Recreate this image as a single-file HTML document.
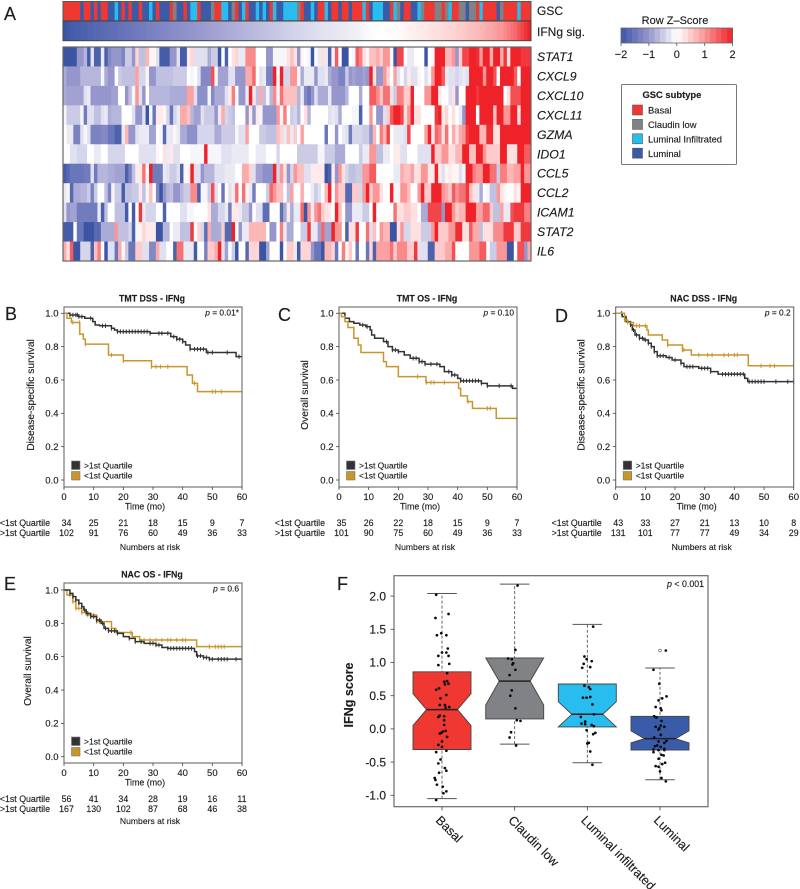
<!DOCTYPE html>
<html lang="en">
<head>
<meta charset="utf-8">
<title>IFNg signature figure</title>
<style>
html,body{margin:0;padding:0;background:#fff;}
svg{display:block;font-family:"Liberation Sans",sans-serif;filter:blur(.3px);}
text{fill:#1c1c1c;stroke:#1c1c1c;stroke-width:.14px;}
</style>
</head>
<body>
<svg id="figure" xmlns="http://www.w3.org/2000/svg" width="800" height="889" viewBox="0 0 800 889">
  <rect x="0" y="0" width="800" height="889" fill="#fff"/>
  <g id="panel-a"></g>
  <g id="panel-b"></g>
  <g id="panel-c"></g>
  <g id="panel-d"></g>
  <g id="panel-e"></g>
  <g id="panel-f"></g>
</svg>
<script>
/* ---------- Panel A data ---------- */
const geneNames = ["STAT1","CXCL9","CXCL10","CXCL11","GZMA","IDO1","CCL5","CCL2","ICAM1","STAT2","IL6"];
const gscSubtype = ("BBBBBLBBLB"+"LBBLLILBLB"+"LLBLLILBLL"+"LBCLLBLIIB"+"LLLCBBIILC"+"BLIBLLILIL"+"BILLIIIICB"+"LLILBBILBB"+"LBBLBBBIBL"+"IIILLBICLB"+"BLLICBBBCC"+"BCIBBCCLCC"+"BIBBBBLCBB"+"BBIBBB").split("");
const subtypeNames = ["Basal","Claudin low","Luminal Infiltrated","Luminal"];
const ifngSignature = [
-2,-1.95,-1.9,-1.85,-1.85,-1.8,-1.8,-1.75,-1.75,-1.7,
-1.7,-1.68,-1.65,-1.62,-1.6,-1.58,-1.55,-1.52,-1.5,-1.48,
-1.45,-1.42,-1.4,-1.38,-1.35,-1.33,-1.3,-1.28,-1.25,-1.23,
-1.2,-1.18,-1.15,-1.13,-1.1,-1.08,-1.05,-1.03,-1,-.98,
-.96,-.94,-.92,-.9,-.88,-.86,-.84,-.82,-.8,-.78,
-.76,-.74,-.72,-.7,-.68,-.66,-.64,-.62,-.6,-.58,
-.56,-.54,-.52,-.5,-.48,-.46,-.44,-.42,-.4,-.38,
-.36,-.35,-.34,-.32,-.3,-.28,-.27,-.26,-.24,-.22,
-.21,-.2,-.18,-.16,-.15,-.14,-.12,-.08,-.05,-.03,
-.02,0,0,0,.02,.02,.04,.05,.07,.1,
.12,.14,.15,.18,.2,.22,.25,.28,.3,.32,
.35,.38,.4,.42,.45,.48,.5,.55,.6,.62,
.65,.7,.75,.8,.85,.9,.95,1,1.1,1.2,
1.3,1.4,1.55,1.7,1.85,2];
const zSTAT1 = [
-2,-2,-2,-2,-1,-1,-.7,-1.9,-.3,-1.8,
-1.8,-.2,-1.8,-1.2,-1,-1,-1,-1.3,-.5,-.5,
-1,.4,-.6,-.6,.7,.1,.1,-.3,-1.9,-1.9,
-1.9,-1,-1,-.3,-1.9,-1.9,.2,.4,-.3,-.3,
-.3,-.3,-.8,-.5,-.5,-2,0,-1.8,0,.3,
.4,-.2,-.2,1.1,1.1,1.1,0,0,0,-1,
-1,-.1,-.1,-.1,-.1,.3,.6,.3,-1,.1,
0,-.1,-2,0,-.2,.3,-.2,-1.8,.1,1.5,
0,-2,-2,0,-.1,1.5,1.2,.3,.1,.6,
.6,.8,.5,1,1,.1,-2,1.7,1.7,0,
-.2,-.2,0,0,0,-2,0,.1,2,2,
2,.7,.7,1,-1,.5,1.7,1.7,2,2,
1.9,1,2,2,.8,2,2,.8,1.8,.3,
2,2,2,1.8,1.8,1.8];
const zCXCL9 = [
-.8,-1,-1,-1,-1,-.7,-.7,-.7,-.7,-.7,
-.7,-.1,-.8,-1,-1,0,-.5,-.6,-.6,-.6,
-.6,.9,-.4,-.4,-.1,-1,-1,-.6,-.6,-.6,
-.6,-.6,-.5,-.5,-.5,-.5,0,-.1,0,-.3,
-1.2,-1.2,-1.2,1.6,-.1,-.9,-.9,-.9,-.3,-.3,
-1,-1,-1,.8,.8,1.4,0,-.3,-.2,-1.3,
-1.3,2,0,2,-.4,-.4,1,1,.1,-.8,
-.2,-.2,-.2,-1,-.3,-.3,-.2,-.8,-1,-1,
-1.3,-1.3,-.5,-1,-.9,-1,-1,-.9,-1,2,
.3,-1,-1,1,.4,0,.9,-.3,0,-.4,
.2,-.3,-.3,.1,0,-.3,.1,1,2,2,
1.5,-.2,-.3,-.3,-.4,-.3,-.2,-.3,2,2,
2,2,1,2,2,1.6,0,2,2,2,
2,1.5,0,2,2,2];
const zCXCL10 = [
-.8,-.9,-.9,-.9,-.9,-.9,-.3,-.2,-1,-1,
-1,-1,-1,-1,-.9,-.9,0,0,-1,-.6,
-.1,1,-.3,-1,0,-.7,-.7,-.7,-.7,-.7,
-.7,-.8,-.8,-.8,-.8,-.8,.9,.9,-.3,-1.1,
-1.1,-1.1,-.1,-1.2,-.8,-.8,-.8,-.3,.2,1.2,
0,-1,-1,-.2,2,.2,-.6,.8,-.6,-.1,
-.7,1.1,.1,1.3,.6,.6,.6,.6,-.7,-.2,
-1.2,-1.5,-1,-.3,-.8,-.8,-.8,-.2,-1,-1,
-1,-1,-.7,0,0,0,-.8,0,0,1.5,
1.5,1.1,.6,1.3,1.3,.3,-.5,1.2,1.2,.5,
.5,2,0,0,0,1,1,2,2,.2,
0,0,-.3,.3,-1,0,0,2,2,2,
1.8,2,2,2,2,2,2,2,0,.3,
1.6,1.6,1.6,2,2,2];
const zCXCL11 = [
-.1,-.5,-.5,-.5,-.5,-.1,-1.4,-.3,-.3,-.6,
-.6,-.3,-.2,-.8,-.7,-.7,-.7,0,0,0,
-.3,-1,-1,-.3,-2,-.1,-1.5,.2,.2,.1,
-.4,-1.5,-.4,-.2,.8,.8,.6,-.7,-.9,-.9,
-.3,-.5,-.5,-.5,-1,-.2,.8,-.4,-.5,-.6,
0,0,0,-1,.2,-1,.2,-.1,-1,-1,
-1,-1,1,.1,1.2,0,-.5,-.4,-.7,0,
.3,-.7,0,0,0,0,0,-.3,-.2,-.3,
-.8,0,0,0,-.1,-.1,-1.8,0,0,1,
0,-1,-1,-.3,.5,1.5,2,2,1.7,.3,
1,2,.3,.3,0,0,0,0,1.8,2,
.2,.4,0,.3,0,-.2,-1,2,2,2,
0,2,2,2,2,.6,2,2,1,1,
2,2,.3,2,2,2];
const zGZMA = [
0,-.2,-.2,-1.3,-1.3,-.3,-.1,-.3,-1.3,-1.3,
-1.3,-1.2,-1.2,-1.5,-1.5,-1.8,-1.8,-.2,.7,-1,
-1,-.3,-.2,-.2,-.2,-.9,-.9,0,-.1,-1.7,
-.2,-.2,.1,-.2,-.8,-.8,-1.1,-1.1,-1.1,-.4,
-.4,-.4,-.4,-.4,-.8,-.8,-.5,-.5,-.5,-.5,
-.1,-.3,-.3,.9,0,0,0,-.5,-.5,-.6,
-.6,-.6,.6,.4,-.2,.6,-.2,.5,0,.9,
0,0,0,0,0,0,-1.5,0,0,-1,
0,-.2,-.3,-1.4,-.4,-.4,-.4,-.5,-.5,-1,
.7,0,1.2,.7,1.7,0,-.2,-.2,-.2,-.3,
1.7,0,0,0,0,.9,2,.2,1.4,1.2,
.3,1.3,0,.8,.3,.8,1,1.8,2,2,
2,.7,.7,1.9,1.9,.3,.3,2,2,2,
2,2,2,2,2,2];
const zIDO1 = [
0,0,-.3,-.3,-.4,-.4,-.4,0,0,-.2,
-.2,0,0,-.4,-.4,-.4,-.4,-.4,0,0,
0,0,-.3,-.3,-.3,-.3,-.3,.1,0,.3,
-.2,.2,-.3,-.3,0,0,0,-.1,-.1,-.1,
-.1,2,-.1,-.1,-.1,-.1,-.3,-.3,-.3,-.2,
-.2,-.2,-.2,-.2,0,0,-.2,-.2,-.2,0,
0,0,-.4,0,0,0,0,0,-.5,-.5,
-.5,-.5,-.5,-.5,-.1,-.1,-.5,-.5,-.5,-.8,
-.8,-.8,0,0,0,0,-.5,-.2,-.2,1,
1,-.6,-.6,-.2,-.2,0,.2,.2,-.3,-.3,
0,0,0,-.3,-.3,-.3,-.3,2,.5,.5,
1,1,.3,.3,.7,.7,2,2,.6,.6,
2,2,1,.5,.5,.5,.5,2,2,.3,
.3,.3,2,2,1.5,1.5];
const zCCL5 = [
-1.9,-1.7,-1.5,-1.5,-1.5,-1.5,-1.4,-1.4,-.3,-1.4,
-.7,-.7,-.7,-.8,-.8,-.9,-.9,-.9,-1.8,-1.3,
-.6,.2,.2,1.3,.1,2,-1.4,-1.4,-1.4,-.2,
-.3,-.5,-.5,-.3,-1.8,.1,.1,2,-.3,-.3,
-1,-.7,-.7,-.7,-.3,-.3,-.3,-.2,-.2,-.2,
0,0,.8,.8,.4,-.3,-.9,-.9,-1.1,-1.1,
-1.1,2,-.4,1,.3,-1,-.4,1,.6,.6,
-.3,-.3,.2,.2,.2,.2,-2,-1.8,.2,-1,
1,.3,-.4,-.6,-.6,-.5,-.5,1,1,1.5,
1.5,0,0,0,0,0,-.2,-.2,.8,.6,
.6,.9,.3,.3,1,1,.2,.2,2,.2,
-.3,.1,.2,.1,.1,-.3,-.1,2,2,1.2,
1,1,2,2,1.3,1.3,-.5,1.2,1.2,.7,
.7,.9,.9,2,1,1];
const zCCL2 = [
-.2,-.1,-1.7,-.8,-.8,-.7,-.7,-.5,-1.3,-.5,
0,0,-.6,-1.3,-.1,-.5,-.5,-1.9,-.6,-.6,
-.5,-.5,.2,-.6,.1,.6,0,-1.3,-2,-1,
-.7,-.6,-1,-1,-.7,-.5,-.5,1.1,1.1,-1.8,
-.1,-.1,-.5,1.6,-.3,0,-1.5,0,-.3,.2,
1.3,0,1.3,-.1,-.2,-1.4,0,0,0,-.5,
1.4,1,.6,.6,0,-.6,.9,0,0,.8,
0,0,-.2,-.5,-.3,0,.7,2,0,1,
.5,.5,-1.7,-1.7,.5,.5,-.4,1,2,.5,
1,1,.3,0,0,2,-.1,-.1,1,1,
.6,0,0,1,2,.5,.5,2,2,2,
1,.8,.5,1.5,1,1.3,1.3,1.8,.6,.3,
-.2,-.8,0,-.1,-.6,-.6,1,.3,.1,0,
0,.3,.1,2,2,2];
const zICAM1 = [
-.3,-1,-.9,-.9,-1.4,-1.4,-1.4,-1.4,-1.4,-1.4,
-.2,-1.8,-.6,0,0,-.6,-.6,-.6,-1.9,0,
-1.9,0,1.8,-.2,-.4,-.4,-.4,0,0,-1.8,
0,0,0,0,-.3,-.3,-.1,-.1,0,0,
0,0,.3,-.8,-.8,-.4,-.4,-.2,-1.4,.2,
.2,-.2,-.5,-.5,-1,0,-.3,-.3,-1.6,-1.6,
0,0,0,-1.6,-.8,.2,-.8,-.2,-.2,1.4,
-2,1,-.2,1,1.3,.5,.3,.2,0,2,
.6,0,-1,-1,-.2,-.2,-.2,-.5,-.5,0,
2,0,0,0,0,0,1.3,.3,.3,.5,
.5,.3,.3,0,-.8,-.8,1.7,1.7,1.7,1.7,
-1,2,2,1,.5,.7,.7,2,2,2,
.9,.9,1.4,1.4,.5,-.6,-.6,.9,-.2,-.2,
1.6,1.8,1.8,1.8,1.2,1.2];
const zSTAT2 = [
-1.9,-1.9,-1.9,0,-1.5,-1.5,-2,-2,-2,-1.7,
-1.7,-.8,-.8,-.8,-.8,1,-.6,-.6,-.6,-.4,
-1.8,.1,.1,.4,.2,.2,.2,-2,-2,-.7,
-.7,0,-.2,-.2,-.6,-.6,-.6,1.8,0,.4,
-.4,-1.6,.8,-.8,-.8,-.8,.5,-1.7,-1.7,2,
0,-1,-.2,-.2,.7,.7,.7,.7,.7,0,
-1,-1,0,1.2,-.2,-.8,-.8,0,0,-.5,
-.5,1.8,-.2,-.2,-.9,1.4,-.9,-.9,2,1,
1,0,-1.8,.3,.3,1.8,0,0,1.3,-.3,
.6,0,1,.7,.7,-2,-2,.3,1,-.4,
-.4,.3,.3,.3,-.5,-.5,-.5,1,2,.5,
.5,.5,1,1,1.9,1.9,.3,.3,1.5,.8,
.8,-.6,.3,.3,.3,1.1,1.1,1.1,1.8,1.8,
1.8,.5,.5,1.8,1.8,1.8];
const zIL6 = [
.8,.3,1.5,-2,-2,-.4,-.4,-.4,-1.8,.6,
1.2,0,-2,-.3,-.3,-1.5,.8,.1,-.5,-1.5,
-1.5,.5,.5,-.3,-.3,-1.2,-1.2,.8,-.3,-.3,
0,0,-1.8,1.3,1.3,-.2,-.2,-.2,-1.9,0,
0,-1.3,.5,.5,.8,2,-.3,-.9,0,-.5,
-2,0,0,-1.7,.4,.4,.4,-2,-2,-.9,
0,0,0,-2,0,.5,.5,-.2,-1.9,.4,
.4,.4,-1,-1.5,-1.5,-2,.7,.7,.4,-1.5,
0,1.2,.1,.5,0,-1.5,0,0,-1.5,.4,
-1.8,.9,.9,.9,.9,1.3,.5,1.1,1.1,1.1,
.5,.5,1.8,-.3,-.3,-.3,-1.8,-1.8,.5,.5,
.5,.8,.8,1.6,0,0,0,0,1,1,
1,1.5,1.5,0,-.5,-.5,1,1,1,-2,
-2,0,1.6,1.6,-1,.8];
const heatmapRows = [zSTAT1,zCXCL9,zCXCL10,zCXCL11,zGZMA,zIDO1,zCCL5,zCCL2,zICAM1,zSTAT2,zIL6];
const colorbarSteps = [-1.9,-1.7,-1.5,-1.3,-1.1,-.9,-.7,-.5,-.3,-.1,.1,.3,.5,.7,.9,1.1,1.3,1.5,1.7,1.9];
const colorbarTicks = [-2,-1,0,1,2];

/* ---------- Panel B data ---------- */
const bDarkTimes = [0,2,5,7,9.7,10.5,12,16,17,18,29,36,38,40,41,42.5,48,58];
const bDarkSurv = [1,.99,.98,.97,.95,.93,.925,.91,.90,.89,.88,.86,.845,.83,.81,.785,.765,.74];
const bDarkCensor = [2,3,4,4.5,5,6,9,13,14,16,18,19,20,21,22,23,24,25,26,27,28,29,32,33,35,37,38,39,40,42.5,44,45,46,47,48.5,50,55,59];
const bGoldTimes = [0,1,2.5,5.3,6.5,7.2,15,20,29.5,41.5,43.3,45];
const bGoldSurv = [1,.97,.945,.875,.845,.815,.75,.715,.68,.63,.58,.53];
const bGoldCensor = [3,5.2,7.2,16,20,29.5,31,32.5,35,44,50,51,53];
const bRiskLow = [34,25,21,18,15,9,7];
const bRiskHigh = [102,91,76,60,49,36,33];

/* ---------- Panel C data ---------- */
const cDarkTimes = [0,2,3.5,5,7,9,10.5,11,12,15,16.5,18,20,22,24,27,29,34,35.5,38,40,41,48,50,58.5];
const cDarkSurv = [1,.97,.95,.94,.93,.92,.90,.87,.85,.83,.80,.78,.77,.75,.73,.71,.695,.68,.65,.63,.61,.595,.58,.565,.55];
const cDarkCensor = [8,9.5,16,18,19,20,25,26,27,28,29,31,33,37,38,39,41,42,43,44,45,46,47,48,50,54,58,60];
const cGoldTimes = [0,.8,2,3,5,6.5,7.4,15,16,20,29.3,40.3,41,43.3,45,53];
const cGoldSurv = [1,.98,.95,.915,.85,.81,.765,.71,.68,.62,.585,.55,.505,.47,.43,.37];
const cGoldCensor = [26.5,29.5,31,32,35.5,43.5,50,51,60];
const cRiskLow = [35,26,22,18,15,9,7];
const cRiskHigh = [101,90,75,60,49,36,33];

/* ---------- Panel D data ---------- */
const dDarkTimes = [0,2.2,3.5,5,5.6,6.5,8,9.5,11,12,13,14,17,19,22,23,28,32,34.5,43.5,44.5];
const dDarkSurv = [1,.98,.95,.93,.90,.87,.85,.84,.82,.80,.77,.745,.735,.72,.70,.68,.67,.65,.635,.61,.59];
const dDarkCensor = [2,3,5,6,7,8,9,10,11,12,13,14,15,16,18,20,22,24,25,26,29,30,31,32,36,37,38,39,40,41,42,43,45,46,47,48,49,50,54,58,60];
const dGoldTimes = [0,3,4,6,10.5,11,15.7,17.5,22.5,25.5,44.7];
const dGoldSurv = [1,.96,.945,.925,.90,.87,.84,.81,.78,.75,.685];
const dGoldCensor = [3,4,7,8,10,17.5,22.5,23,28,31,32.5,36.5,38,40,41,49,52,53.5];
const dRiskLow = [43,33,27,21,13,10,8];
const dRiskHigh = [131,101,77,77,49,34,29];

/* ---------- Panel E data ---------- */
const eDarkTimes = [0,2,3,4,5,6,6.7,7.5,9,11,12.5,13.5,15,18,20,22,24,27,31,33,35,44,44.7,47,49];
const eDarkSurv = [1,.98,.96,.94,.92,.90,.88,.86,.84,.82,.80,.77,.755,.74,.72,.71,.69,.68,.67,.655,.65,.63,.605,.595,.585];
const eDarkCensor = [2,3,4,5,6,7,8,9,10,11,12,13,14,15,16,17,18,22,24,26,29,30,31,32,35,36,37,38,39,40,41,42,43,45,46,47,48,49,50,52,53,54,55,58,60];
const eGoldTimes = [0,1,3,4,6,7.5,11,16,17.5,23,25.5,44.7];
const eGoldSurv = [1,.97,.93,.89,.865,.85,.81,.77,.745,.72,.70,.66];
const eGoldCensor = [2,3,4,5,6,8,9,10,11,12,22.5,25.5,27,29,31,33,35,36,38,40,41,49,51,52,53,54];
const eRiskLow = [56,41,34,28,19,16,11];
const eRiskHigh = [167,130,102,87,68,46,38];

const kmTimeTicks = [0,10,20,30,40,50,60];
const kmSurvTicks = [0,.2,.4,.6,.8,1];

/* ---------- Panel F data ---------- */
const boxCategories = ["Basal","Claudin low","Luminal infiltrated","Luminal"];
const boxQ1 = [-.31,.15,.03,-.32];
const boxMedian = [.29,.72,.22,-.147];
const boxQ3 = [.86,1.07,.676,.19];
const boxNotchLow = [.05,.36,.03,-.21];
const boxNotchHigh = [.53,1.07,.41,-.03];
const boxWhiskerLow = [-1.05,-.23,-.51,-.765];
const boxWhiskerHigh = [2.04,2.18,1.575,.917];
const boxTicks = [-1,-.5,0,.5,1,1.5,2];
const basalValues = [2.02,1.73,1.67,1.41,1.44,1.41,1.21,1.15,1.15,1.10,1.10,.98,.96,.84,.72,.71,.68,.67,.61,.59,.51,.46,.36,.36,.32,.33,.2,.18,.19,.13,.06,-.06,-.07,-.04,-.03,-.12,-.19,-.24,-.27,-.35,-.33,-.46,-.52,-.59,-.63,-.66,-.74,-.77,-.84,-.87,-.94,-.97,-1.07];
const basalJitter = [-.08,.09,-.09,-.07,-.01,.06,.08,.06,0,-.05,.09,.1,-.05,.07,.07,.03,.09,.04,-.04,-.08,.06,-.02,-.03,.04,.05,.1,-.03,-.05,.03,.03,.03,-.01,-.03,.01,.05,.07,0,-.05,0,-.08,.06,-.02,-.05,.04,.06,-.04,-.1,-.09,-.07,.01,.06,.02,-.08];
const claudinValues = [2.16,1.19,1.06,1.05,.99,.97,.89,.81,.58,.5,.31,.13,.12,-.05,-.13,-.25];
const claudinJitter = [.04,.01,-.09,-.04,-.02,-.03,.01,-.07,-.04,-.06,.01,.03,.08,-.05,-.07,.02];
const infiltratedValues = [1.54,1.09,1.02,1.05,.98,.92,.93,.65,.63,.6,.47,.47,.48,.37,.18,.22,.11,.08,.07,.06,.04,-.02,-.06,-.08,-.21,-.22,-.34,-.54];
const infiltratedJitter = [.08,-.04,.06,-.01,-.05,-.07,.04,-.04,.02,.04,-.06,-.01,.04,.07,-.09,.09,-.03,-.08,-.03,.06,.09,-.01,.11,.08,.02,0,.04,.07];
const luminalValues = [1.18,.89,.68,.49,.46,.43,.33,.31,.28,.19,.17,.12,.05,.03,.03,.01,-.01,-.09,-.13,-.19,-.18,-.21,-.25,-.26,-.27,-.3,-.31,-.32,-.32,-.35,-.39,-.4,-.45,-.51,-.53,-.56,-.57,-.64,-.74,-.79];
const luminalJitter = [.08,-.09,-.01,.09,.03,-.02,-.06,.01,.02,-.08,-.05,.02,.01,-.06,.06,-.01,-.02,.01,-.08,-.02,.09,.06,-.04,-.07,.01,.06,-.09,-.02,.06,-.09,.02,.05,-.02,.07,.03,-.06,-.02,0,.02,.08];
const luminalOutliers = [1.18];
const boxPointValues = [basalValues,claudinValues,infiltratedValues,luminalValues];
const boxPointJitter = [basalJitter,claudinJitter,infiltratedJitter,luminalJitter];

/* ---------- helpers ---------- */
const NS = "http://www.w3.org/2000/svg";
function mk(tag, attrs, parent, txt) {
  const e = document.createElementNS(NS, tag);
  for (const k in attrs) e.setAttribute(k, attrs[k]);
  if (txt !== undefined) e.textContent = txt;
  parent.appendChild(e);
  return e;
}
const SUBTYPE_COLORS = {B:"#ef3832",C:"#808285",I:"#29bcef",L:"#3a5ba8"};
function zColor(z) {
  const stops = [[-2,59,85,165],[-1,150,150,205],[0,255,255,255],[1,250,150,150],[2,238,34,40]];
  const v = Math.max(-2, Math.min(2, z));
  for (let i = 0; i < 4; i++) {
    const a = stops[i], b = stops[i+1];
    if (v <= b[0]) {
      const f = v - a[0];
      return "rgb(" + Math.round(a[1]+(b[1]-a[1])*f) + "," + Math.round(a[2]+(b[2]-a[2])*f) + "," + Math.round(a[3]+(b[3]-a[3])*f) + ")";
    }
  }
  return "rgb(238,34,40)";
}

/* ---------- Panel A ---------- */
(function () {
  const g = document.getElementById("panel-a");
  const L = 63, R = 531;
  const colX = i => L + (R - L) * i / gscSubtype.length;
  const colW = (R - L) / gscSubtype.length + 0.4;

  const letter = mk("text", {x:4, y:20, "font-size":18}, g, "A");
  
  

  gscSubtype.forEach((c, i) => {
    const r = mk("rect", {x:colX(i), y:2, width:colW, height:18.5, fill:SUBTYPE_COLORS[c]}, g);
    
    
  });
  ifngSignature.forEach((v, i) => {
    const r = mk("rect", {x:colX(i), y:21.5, width:colW, height:19, fill:zColor(v)}, g);
    
    
  });
  const rowH = (261 - 47) / heatmapRows.length;
  heatmapRows.forEach((row, ri) => {
    row.forEach((v, i) => {
      const r = mk("rect", {x:colX(i), y:47 + ri * rowH, width:colW, height:rowH + 0.3, fill:zColor(v)}, g);
      
      
    });
    const lab = mk("text", {x:537, y:47 + ri * rowH + 14, "font-size":12.3, "font-style":"italic"}, g, geneNames[ri]);
    
    
  });
  const f1 = mk("rect", {x:63, y:1.5, width:468, height:19.3, fill:"none", stroke:"#555", "stroke-width":1}, g);
  
  
  const f2 = mk("rect", {x:63, y:21, width:468, height:19.7, fill:"none", stroke:"#444", "stroke-width":1}, g);
  
  
  const f3 = mk("rect", {x:63, y:47, width:468, height:214, fill:"none", stroke:"#666", "stroke-width":1.2}, g);
  
  
  const t1 = mk("text", {x:537, y:15, "font-size":12}, g, "GSC");
  
  
  const t2 = mk("text", {x:537, y:36, "font-size":12}, g, "IFNg sig.");
  
  

  /* colour key */
  const kx = v => 621 + (v + 2) * 27.9;
  const kt = mk("text", {x:675, y:24, "font-size":11, "text-anchor":"middle"}, g, "Row Z\u2013Score");
  
  
  colorbarSteps.forEach(v => {
    const r = mk("rect", {x:kx(v - .1), y:28, width:kx(.2) - kx(0) + .3, height:15, fill:zColor(v)}, g);
    
    
  });
  const kf = mk("rect", {x:621, y:28, width:111.6, height:15, fill:"none", stroke:"#666", "stroke-width":.8}, g);
  
  
  colorbarTicks.forEach(v => {
    const tk = mk("line", {x1:kx(v), x2:kx(v), y1:43, y2:46, stroke:"#555", "stroke-width":.8}, g);
    
    
    const tl = mk("text", {x:kx(v), y:58, "font-size":11, "text-anchor":"middle"}, g, v < 0 ? "\u2212" + (-v) : String(v));
    
    
  });

  /* subtype legend */
  const lb = mk("rect", {x:621.5, y:84.5, width:115, height:80, fill:"#fff", stroke:"#777", "stroke-width":1, rx:1}, g);
  
  
  const lt = mk("text", {x:642.5, y:98, "font-size":9.4, "font-weight":"bold"}, g, "GSC subtype");
  
  
  subtypeNames.forEach((n, i) => {
    const y = 105 + i * 14.4;
    const sw = mk("rect", {x:632.5, y:y, width:10, height:10, fill:SUBTYPE_COLORS["BCIL"[i]], stroke:"#555", "stroke-width":.6}, g);
    
    
    const tx = mk("text", {x:648, y:y + 8.6, "font-size":9.4}, g, n);
    
    
  });
})();

/* ---------- KM panels ---------- */
function drawKM(p) {
  const g = document.getElementById(p.id);
  const x = t => p.left + t * (178 / 60);
  const y = s => p.y0 - s * (p.y0 - p.y1);
  const right = p.left + 178;

  const letter = mk("text", {x:p.lx, y:p.ly, "font-size":18}, g, p.letter);
  
  
  const title = mk("text", {x:p.left + 88, y:p.top - 5.5, "font-size":8.8, "font-weight":"bold", "text-anchor":"middle"}, g, p.title);
  
  

  function curve(times, surv, censor, color, name) {
    let d = "M" + x(times[0]) + " " + y(surv[0]);
    for (let i = 1; i < times.length; i++) {
      d += "H" + x(times[i]) + "V" + y(surv[i]);
    }
    d += "H" + x(60);
    const path = mk("path", {d:d, fill:"none", stroke:color, "stroke-width":1.5}, g);
    
    
    censor.forEach(t => {
      let s = surv[0];
      for (let i = 0; i < times.length; i++) if (times[i] <= t) s = surv[i];
      const c = mk("line", {x1:x(t), x2:x(t), y1:y(s) - 2.2, y2:y(s) + 2.2, stroke:color, "stroke-width":1}, g);
      
      
    });
  }
  if (p.goldFirst) {
    curve(p.goldT, p.goldS, p.goldC, "#c9962c", "low-quartile");
    curve(p.darkT, p.darkS, p.darkC, "#333", "high-quartile");
  } else {
    curve(p.darkT, p.darkS, p.darkC, "#333", "high-quartile");
    curve(p.goldT, p.goldS, p.goldC, "#c9962c", "low-quartile");
  }

  const frame = mk("rect", {x:p.left, y:p.top, width:178, height:180, fill:"none", stroke:"#6a6a6a", "stroke-width":1.1}, g);
  
  

  kmSurvTicks.forEach(s => {
    const t = mk("line", {x1:p.left - 3, x2:p.left, y1:y(s), y2:y(s), stroke:"#444", "stroke-width":.8}, g);
    
    
    const l = mk("text", {x:p.left - 5.5, y:y(s) + 3.3, "font-size":9.5, "text-anchor":"end"}, g, s.toFixed(1));
    
    
  });
  kmTimeTicks.forEach((tv, i) => {
    const t = mk("line", {x1:x(tv), x2:x(tv), y1:p.top + 180, y2:p.top + 183, stroke:"#444", "stroke-width":.8}, g);
    
    
    const l = mk("text", {x:x(tv), y:p.top + 193, "font-size":9.5, "text-anchor":"middle"}, g, String(tv));
    
    
    const off = i === 0 ? 2.5 : 0;
    const a = mk("text", {x:x(tv) + off, y:p.riskY, "font-size":8.8, "text-anchor":"middle"}, g, String(p.riskLow[i]));
    
    
    const b = mk("text", {x:x(tv) + off, y:p.riskY + 10, "font-size":8.8, "text-anchor":"middle"}, g, String(p.riskHigh[i]));
    
    
  });
  const xt = mk("text", {x:p.left + 81, y:p.top + 202.5, "font-size":8.9, "text-anchor":"middle"}, g, "Time (mo)");
  
  
  const yt = mk("text", {transform:"translate(" + (p.left + p.ytOff) + "," + (p.top + 88) + ") rotate(-90)", "font-size":10.2, "text-anchor":"middle"}, g, p.ylabel);
  
  

  const pv = mk("text", {x:right - 3, y:p.top + 8.7, "font-size":8.4, "text-anchor":"end"}, g);
  
  
  mk("tspan", {"font-style":"italic"}, pv, "p");
  mk("tspan", {}, pv, p.pText);

  const rl = mk("text", {x:p.left - 14, y:p.riskY, "font-size":8.8, "text-anchor":"end"}, g, "<1st Quartile");
  
  
  const rh = mk("text", {x:p.left - 14, y:p.riskY + 10, "font-size":8.8, "text-anchor":"end"}, g, ">1st Quartile");
  
  
  const nr = mk("text", {x:p.left + 86, y:p.riskY + p.narOff, "font-size":8.6, "text-anchor":"middle"}, g, "Numbers at risk");
  
  

  const s1 = mk("rect", {x:p.left + 7.5, y:p.top + 154, width:8.5, height:8.5, fill:"#333", stroke:"#777", "stroke-width":.6}, g);
  
  
  const s2 = mk("rect", {x:p.left + 7.5, y:p.top + 164.5, width:8.5, height:8.5, fill:"#c9962c", stroke:"#777", "stroke-width":.6}, g);
  
  
  const l1 = mk("text", {x:p.left + 20, y:p.top + 161.5, "font-size":8.5}, g, ">1st Quartile");
  
  
  const l2 = mk("text", {x:p.left + 20, y:p.top + 171.5, "font-size":8.5}, g, "<1st Quartile");
  
  
}

drawKM({id:"panel-b", letter:"B", lx:5, ly:320, left:64, top:307, y1:313.3, y0:480, title:"TMT DSS - IFNg", ylabel:"Disease-specific survival", ytOff:-30, pText:" = 0.01*", riskY:526, narOff:24,
  darkT:bDarkTimes, darkS:bDarkSurv, darkC:bDarkCensor, goldT:bGoldTimes, goldS:bGoldSurv, goldC:bGoldCensor, riskLow:bRiskLow, riskHigh:bRiskHigh});
drawKM({id:"panel-c", letter:"C", lx:278, ly:321, left:339, top:307, y1:313.3, y0:480, title:"TMT OS - IFNg", ylabel:"Overall  survival", ytOff:-31, pText:" =  0.10", riskY:526, narOff:24,
  darkT:cDarkTimes, darkS:cDarkSurv, darkC:cDarkCensor, goldT:cGoldTimes, goldS:cGoldSurv, goldC:cGoldCensor, riskLow:cRiskLow, riskHigh:cRiskHigh});
drawKM({id:"panel-d", letter:"D", lx:555, ly:322, left:615.7, top:307, y1:313.3, y0:480, title:"NAC DSS - IFNg", ylabel:"Disease-specific survival", ytOff:-31, pText:" = 0.2", riskY:526, narOff:24,
  darkT:dDarkTimes, darkS:dDarkSurv, darkC:dDarkCensor, goldT:dGoldTimes, goldS:dGoldSurv, goldC:dGoldCensor, riskLow:dRiskLow, riskHigh:dRiskHigh});
drawKM({id:"panel-e", letter:"E", lx:4, ly:590, left:64, top:583, y1:590, y0:756.7, title:"NAC OS - IFNg", ylabel:"Overall  survival", ytOff:-33, pText:" = 0.6", riskY:802, narOff:22,
  darkT:eDarkTimes, darkS:eDarkSurv, darkC:eDarkCensor, goldT:eGoldTimes, goldS:eGoldSurv, goldC:eGoldCensor, riskLow:eRiskLow, riskHigh:eRiskHigh, goldFirst:true});

/* ---------- Panel F ---------- */
(function () {
  const g = document.getElementById("panel-f");
  const y = v => 728.9 - v * 66.4;
  const x = c => 442 + c * 72.67;
  const boxFill = ["#ef3832","#808285","#29bcef","#3a5ba8"];
  const HW = 29, NW = 15.5, CAP = 14.8;

  const letter = mk("text", {x:337, y:590, "font-size":18}, g, "F");
  
  
  const frame = mk("rect", {x:394, y:575.7, width:314, height:231, fill:"none", stroke:"#6a6a6a", "stroke-width":1.2}, g);
  
  

  boxTicks.forEach(v => {
    const t = mk("line", {x1:390.5, x2:394, y1:y(v), y2:y(v), stroke:"#444", "stroke-width":.8}, g);
    
    
    const l = mk("text", {x:386, y:y(v) + 4.2, "font-size":12, "text-anchor":"end"}, g, v.toFixed(1));
    
    
  });
  const yt = mk("text", {transform:"translate(353,695) rotate(-90)", "font-size":12.6, "font-weight":"bold", "text-anchor":"middle"}, g, "IFNg score");
  
  
  const pv = mk("text", {x:704, y:587, "font-size":8.8, "text-anchor":"end"}, g);
  
  
  mk("tspan", {"font-style":"italic"}, pv, "p");
  mk("tspan", {}, pv, " < 0.001");

  boxCategories.forEach((name, c) => {
    const cx = x(c);
    const stem = mk("line", {x1:cx, x2:cx, y1:y(boxWhiskerLow[c]), y2:y(boxWhiskerHigh[c]), stroke:"#555", "stroke-width":.9, "stroke-dasharray":"3 2"}, g);
    
    
    [boxWhiskerLow[c], boxWhiskerHigh[c]].forEach(v => {
      const cap = mk("line", {x1:cx - CAP, x2:cx + CAP, y1:y(v), y2:y(v), stroke:"#555", "stroke-width":1}, g);
      
      
    });
    const pts = [
      [cx - HW, y(boxQ3[c])], [cx + HW, y(boxQ3[c])], [cx + HW, y(boxNotchHigh[c])],
      [cx + NW, y(boxMedian[c])], [cx + HW, y(boxNotchLow[c])], [cx + HW, y(boxQ1[c])],
      [cx - HW, y(boxQ1[c])], [cx - HW, y(boxNotchLow[c])], [cx - NW, y(boxMedian[c])],
      [cx - HW, y(boxNotchHigh[c])]
    ].map(p => p[0].toFixed(1) + "," + p[1].toFixed(1)).join(" ");
    const box = mk("polygon", {points:pts, fill:boxFill[c], stroke:"#444", "stroke-width":.9}, g);
    
    
    const med = mk("line", {x1:cx - NW, x2:cx + NW, y1:y(boxMedian[c]), y2:y(boxMedian[c]), stroke:"#222", "stroke-width":1.5}, g);
    
    

    boxPointValues[c].forEach((v, i) => {
      const d = mk("circle", {cx:cx + boxPointJitter[c][i] * 72.67, cy:y(v), r:1.35, fill:"#0a0a0a"}, g);
      
      
    });

    const tk = mk("line", {x1:cx, x2:cx, y1:806.7, y2:810.5, stroke:"#444", "stroke-width":.8}, g);
    
    
    const tl = mk("text", {transform:"translate(" + (cx - 7) + ",821) rotate(45)", "font-size":12.6}, g, name);
    
    
  });
  luminalOutliers.forEach(v => {
    const o = mk("circle", {cx:x(3), cy:y(v), r:1.4, fill:"#fff", stroke:"#555", "stroke-width":.6}, g);
    
    
  });
})();
</script>
</body>
</html>
